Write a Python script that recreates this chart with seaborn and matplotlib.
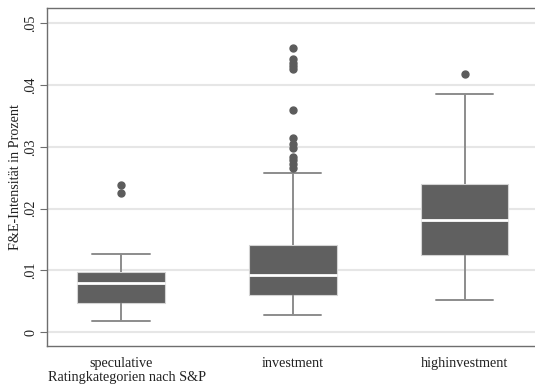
import numpy as np
import pandas as pd
import matplotlib
matplotlib.use("Agg")
import matplotlib.pyplot as plt
import seaborn as sns

# Rating groups and the box-plot summary of R&D intensity per group
categories = ["speculative", "investment", "highinvestment"]
whisker_low = [0.0019, 0.00275, 0.0053]
quartile_1 = [0.0047, 0.0060, 0.0125]
median = [0.0079, 0.0093, 0.0181]
quartile_3 = [0.0097, 0.0141, 0.0240]
whisker_high = [0.0127, 0.0257, 0.0386]
outliers = [
    [0.0225, 0.0238],
    [0.0266, 0.0272, 0.0279, 0.0284, 0.0298, 0.0305, 0.0314, 0.0359,
     0.0426, 0.0431, 0.0436, 0.0442, 0.0460],
    [0.04175],
]
y_ticks = [0.0, 0.01, 0.02, 0.03, 0.04, 0.05]
y_tick_labels = ["0", ".01", ".02", ".03", ".04", ".05"]


def observations(lo, q1, q2, q3, hi, extra, block=20):
    """Observations whose quartiles, whisker ends and outliers equal the summary."""
    return [lo] + [q1] * block + [q2] * block + [q3] * block + [hi] + list(extra)


rows = []
for i, cat in enumerate(categories):
    for v in observations(whisker_low[i], quartile_1[i], median[i],
                          quartile_3[i], whisker_high[i], outliers[i]):
        rows.append({"rating": cat, "intensity": v})
df = pd.DataFrame(rows)

sns.set_theme(style="white")
plt.rcParams["font.family"] = ["Liberation Serif", "DejaVu Serif"]
FS = 10.2
plt.rcParams["font.size"] = FS

fig = plt.figure(figsize=(5.35, 3.92), dpi=100)
ax = fig.add_axes([47 / 535, 1 - 346 / 392, 488 / 535, 338 / 392])

box_grey = "#606060"
whisker_grey = "#8c8c8c"
sns.boxplot(
    data=df, x="rating", y="intensity", order=categories, ax=ax,
    width=0.51, whis=1.5, color=box_grey, linecolor=whisker_grey, linewidth=1.3,
    boxprops=dict(facecolor=box_grey, edgecolor="#d4d4d4", linewidth=0.8),
    medianprops=dict(color="white", linewidth=2.0),
    whiskerprops=dict(color=whisker_grey, linewidth=1.4),
    capprops=dict(color=whisker_grey, linewidth=1.4),
    flierprops=dict(marker="o", markerfacecolor="#5c5c5c",
                    markeredgecolor="#5c5c5c", markersize=5),
    zorder=3,
)

# Widen the whisker caps to about two thirds of the box width
cap_half = 0.1675
cap_levels = set(whisker_low) | set(whisker_high)
for line in ax.lines:
    xd = np.asarray(line.get_xdata(), dtype=float)
    yd = np.asarray(line.get_ydata(), dtype=float)
    if len(xd) == 2 and yd[0] == yd[1] and yd[0] in cap_levels and xd[0] != xd[1]:
        c = xd.mean()
        line.set_xdata([c - cap_half, c + cap_half])

ax.set_xlim(-0.43, 2.41)
ax.set_ylim(-0.00222, 0.05248)
ax.set_yticks(y_ticks)
ax.set_yticklabels(y_tick_labels, rotation=90, va="center")
ax.yaxis.grid(True, color="#e6e6e6", linewidth=1.5, zorder=0)
ax.xaxis.grid(False)
ax.set_axisbelow(True)

ax.tick_params(axis="y", which="major", left=True, length=5, width=0.8,
               color="#6e6e6e", pad=2, labelsize=FS, labelcolor="#222222")
ax.tick_params(axis="x", length=0, pad=8, labelsize=FS, labelcolor="#222222")
ax.set_xlabel("")
ax.set_ylabel("")

for side in ["left", "top", "bottom"]:
    ax.spines[side].set_visible(True)
    ax.spines[side].set_color("#6e6e6e")
    ax.spines[side].set_linewidth(1.0)
ax.spines["right"].set_visible(False)

fig.text(16 / 535, 1 - 177 / 392, "F&E-Intensität in Prozent", rotation=90,
         ha="center", va="center", fontsize=FS, color="#222222")
fig.text(48 / 535, 1 - 378 / 392, "Ratingkategorien nach S&P",
         ha="left", va="center", fontsize=FS, color="#222222")

fig.savefig("out.png", dpi=100)
